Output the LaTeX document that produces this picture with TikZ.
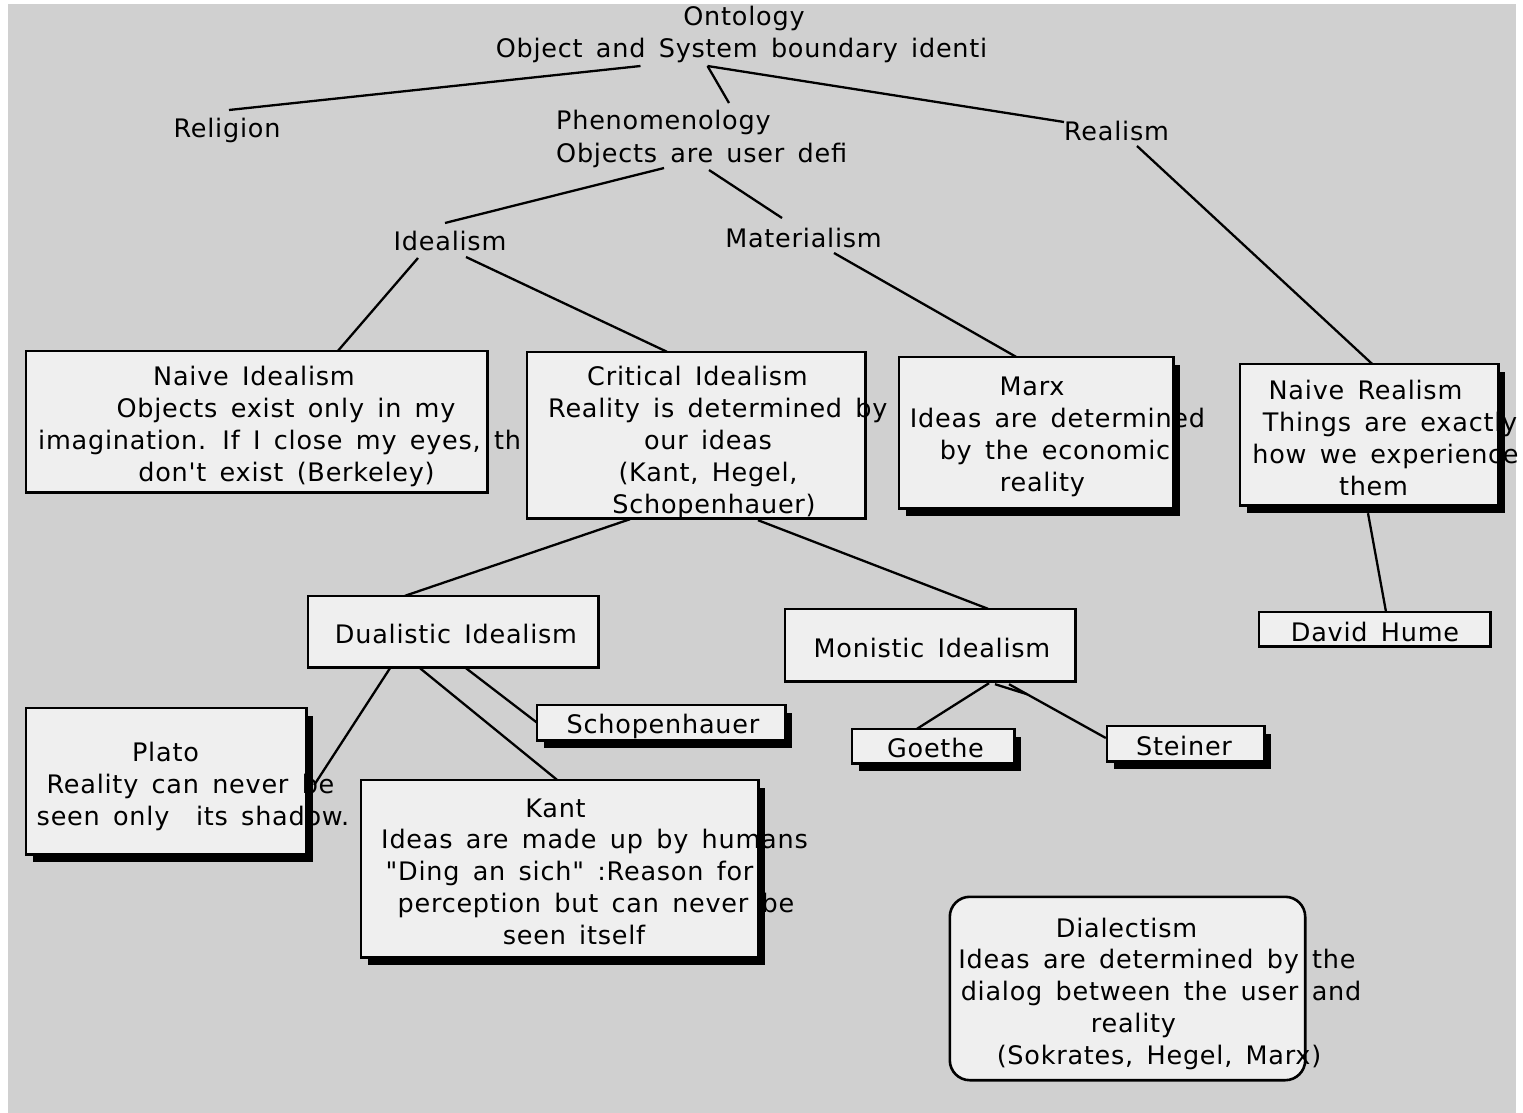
\documentclass[tikz,border=0pt]{standalone}
\usepackage{fontspec}
\setmainfont{DejaVu Sans}[Ligatures=TeXOff,LetterSpace=3,WordSpace=1.5]
\definecolor{canvasgray}{HTML}{D0D0D0}
\definecolor{panelfill}{HTML}{EFEFEF}

% a panel is an empty node that fixes the box geometry
\newcommand\panel[5]{\path node[inner sep=0pt, minimum width=#4pt, minimum height=#5pt] (#1) at (#2,#3) {};}
\newcommand\panelshadow[1]{\fill[black] ([shift={(7,8)}]#1.south west) rectangle ([shift={(7,8)}]#1.north east);}
\newcommand\panelfill[1]{\fill[panelfill] (#1.south west) rectangle (#1.north east);}
\newcommand\panelframe[1]{\draw[frameline] (#1.south west) rectangle (#1.north east);}

\begin{document}
\begin{tikzpicture}[x=1pt,y=-1pt,
  lbl/.style={inner sep=0pt, anchor=base, font=\fontsize{25.5}{30}\selectfont},
  lblw/.style={lbl, anchor=base west},
  frameline/.style={draw=black, line width=2.6pt},
  link/.style={draw=black, line width=2.3pt}]
\useasboundingbox (0,0) rectangle (1523,1113);
\fill[white] (0,0) rectangle (1523,1113);
\fill[canvasgray] (8,4) rectangle (1516,1113);

% free-standing headings
\node[lbl] (ontA) at (744,26) {Ontology};
\node[lbl] (ont) at (741.5,58) {Object and System boundary identi};
\node[lbl] (rel) at (227,138) {Religion};
\node[lblw] (phenA) at (556,130) {Phenomenology};
\node[lblw] (phen) at (556,162) {Objects are user defi};
\node[lbl] (real) at (1116.5,140) {Realism};
\node[lbl] (ideal) at (450,250) {Idealism};
\node[lbl] (mat) at (803.5,247) {Materialism};

% Naive Idealism
\panel{ni}{256.5}{421.5}{461}{141}
\panelfill{ni}
\node[lbl] (ni1) at (254,385) {Naive Idealism};
\node[lbl] (ni2) at (286,417) {Objects exist only in my};
\node[lblw] (ni3) at (38,449) {imagination. If I close my eyes, th};
\node[lbl] (ni4) at (286.5,481) {don't exist (Berkeley)};
\panelframe{ni}

% Critical Idealism
\panel{ci}{696}{435}{338}{166}
\panelfill{ci}
\node[lbl] (ci1) at (697.5,385) {Critical Idealism};
\node[lblw] (ci2) at (548,417) {Reality is determined by};
\node[lbl] (ci3) at (708,449) {our ideas};
\node[lbl] (ci4) at (708,481) {(Kant, Hegel,};
\node[lbl] (ci5) at (714,513) {Schopenhauer)};
\panelframe{ci}

% Marx
\panel{mx}{1036}{432.5}{274}{151}
\panelshadow{mx}
\panelfill{mx}
\node[lbl] (mx1) at (1032,395) {Marx};
\node[lbl] (mx2) at (1057.5,427) {Ideas are determined};
\node[lbl] (mx3) at (1055,459) {by the economic};
\node[lbl] (mx4) at (1042.5,491) {reality};
\panelframe{mx}

% Naive Realism
\panel{nr}{1369}{434.5}{258}{141}
\panelshadow{nr}
\panelfill{nr}
\node[lbl] (nr1) at (1365.5,399) {Naive Realism};
\node[lbl] (nr2) at (1390,431) {Things are exactly};
\node[lbl] (nr3) at (1385.5,463) {how we experience};
\node[lbl] (nr4) at (1373.5,495) {them};
\panelframe{nr}

% David Hume
\panel{dh}{1374.5}{629}{231}{34}
\panelfill{dh}
\node[lbl] (dh1) at (1375,641) {David Hume};
\panelframe{dh}

% Dualistic Idealism
\panel{di}{453}{631.5}{290}{71}
\panelfill{di}
\node[lbl] (di1) at (456,643) {Dualistic Idealism};
\panelframe{di}

% Monistic Idealism
\panel{mi}{930}{645}{290}{72}
\panelfill{mi}
\node[lbl] (mi1) at (932,657) {Monistic Idealism};
\panelframe{mi}

% Goethe
\panel{go}{933}{746}{162}{34}
\panelshadow{go}
\panelfill{go}
\node[lbl] (go1) at (935.5,757) {Goethe};
\panelframe{go}

% Steiner
\panel{st}{1185.5}{743.5}{157}{35}
\panelshadow{st}
\panelfill{st}
\node[lbl] (st1) at (1184,755) {Steiner};
\panelframe{st}

% Schopenhauer
\panel{sc}{661}{722.5}{248}{35}
\panelshadow{sc}
\panelfill{sc}
\node[lbl] (sc1) at (663,733) {Schopenhauer};
\panelframe{sc}

% Plato
\panel{pl}{166}{781}{280}{146}
\panelshadow{pl}
\panelfill{pl}
\node[lbl] (pl1) at (165.5,761) {Plato};
\node[lbl] (pl2) at (190.5,793) {Reality can never be};
\node[lbl] (pl3) at (193,825) {seen only\ \ its shadow.};
\panelframe{pl}

% Kant
\panel{ka}{559.5}{868.5}{397}{177}
\panelshadow{ka}
\panelfill{ka}
\node[lbl] (ka1) at (555.5,817) {Kant};
\node[lbl] (ka2) at (594.5,848) {Ideas are made up by humans};
\node[lbl] (ka3) at (569.5,880) {"Ding an sich" :Reason for};
\node[lbl] (ka4) at (596,912) {perception but can never be};
\node[lbl] (ka5) at (574,944) {seen itself};
\panelframe{ka}

% Dialectism (rounded, unconnected)
\panel{dl}{1127.5}{988.5}{355}{183}
\fill[panelfill, rounded corners=20pt] (dl.south west) rectangle (dl.north east);
\node[lbl] (dl1) at (1126.5,937) {Dialectism};
\node[lbl] (dl2) at (1157,968) {Ideas are determined by the};
\node[lbl] (dl3) at (1161,1000) {dialog between the user and};
\node[lbl] (dl4) at (1133.5,1032) {reality};
\node[lbl] (dl5) at (1159,1064) {(Sokrates, Hegel, Marx)};
\draw[frameline, rounded corners=20pt] (dl.south west) rectangle (dl.north east);

% connectors
\draw[link] ([shift={(-101,8)}]ont.base) -- ([shift={(2,-28)}]rel.base);
\draw[link] ([shift={(-34,8)}]ont.base) -- ([shift={(173,-27)}]phenA.base west);
\draw[link] ([shift={(-34,8)}]ont.base) -- ([shift={(-52.5,-18)}]real.base);
\draw[link] ([shift={(108,6)}]phen.base west) -- ([shift={(-5,-27)}]ideal.base);
\draw[link] ([shift={(153,8)}]phen.base west) -- ([shift={(-21.5,-29)}]mat.base);
\draw[link] ([shift={(20.5,6)}]real.base) -- ([shift={(3,0)}]nr.north);
\draw[link] ([shift={(-32,8)}]ideal.base) -- ([shift={(81.5,0)}]ni.north);
\draw[link] ([shift={(16,7)}]ideal.base) -- ([shift={(-29,0)}]ci.north);
\draw[link] ([shift={(30.5,6)}]mat.base) -- ([shift={(-20,0)}]mx.north);
\draw[link] ([shift={(-66,1)}]ci.south) -- ([shift={(-48,0)}]di.north);
\draw[link] ([shift={(62,2)}]ci.south) -- ([shift={(58,0)}]mi.north);
\draw[link] ([shift={(-1,8)}]nr.south) -- ([shift={(11.5,0)}]dh.north);
\draw[link] ([shift={(-63,1)}]di.south) -- ([shift={(8,4)}]pl.east);
\draw[link] ([shift={(-33,1)}]di.south) -- ([shift={(-2.5,0)}]ka.north);
\draw[link] ([shift={(13,1)}]di.south) -- (sc.west);
\draw[link] ([shift={(59,2)}]mi.south) -- ([shift={(-16,0)}]go.north);
\draw[link] ([shift={(79,3)}]mi.south) -- ([shift={(-1,-5.5)}]st.west);
\draw[link] ([shift={(65,3)}]mi.south) -- ([shift={(97,13)}]mi.south);
\end{tikzpicture}
\end{document}
